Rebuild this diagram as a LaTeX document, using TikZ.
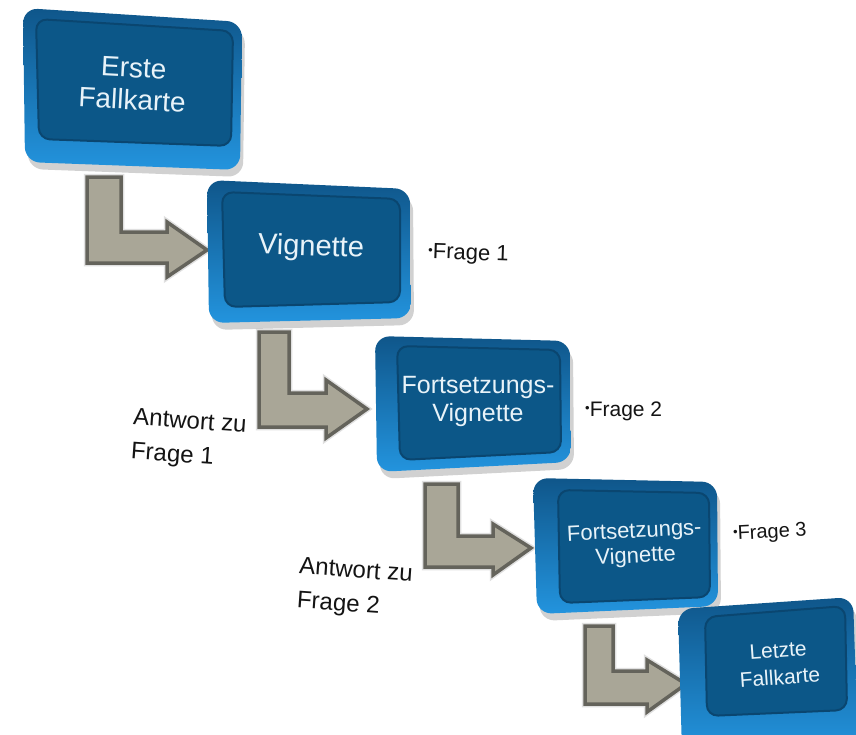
\documentclass[tikz,border=0pt]{standalone}
\usepackage{fontspec}
\setmainfont{Liberation Sans}
\definecolor{rimtop}{HTML}{0F568A}
\definecolor{rimbot}{HTML}{2394DE}
\definecolor{facefill}{HTML}{0C5788}
\definecolor{faceedge}{HTML}{0A4670}
\definecolor{arrowfill}{HTML}{A9A697}
\definecolor{arrowedge}{HTML}{64635B}
\definecolor{boxtxt}{HTML}{E8F3F9}
\newcommand\cardbox[2]{%
  \begin{scope}[shift={(3,7)}]\fill[cardshadow] #1;\end{scope}
  \shade[rim] #1;
  \filldraw[face] #2;
}
\newcommand\smallbullet{\raisebox{0.18em}{\fontsize{13}{13}\selectfont •}}
\begin{document}
\begin{tikzpicture}[x=1pt,y=-1pt,
  rim/.style={rounded corners=15pt, top color=rimtop, bottom color=rimbot},
  face/.style={rounded corners=11pt, fill=facefill, draw=faceedge, line width=2pt},
  cardshadow/.style={rounded corners=15pt, fill=black, opacity=0.18},
  boxtext/.style={text=boxtxt, align=center, inner sep=0pt},
  arrowblk/.style={fill=arrowfill, draw=arrowedge, line width=3.5pt, line join=miter},
  arrowglow/.style={draw=black!12, line width=6.5pt, line join=miter},
  sidenote/.style={anchor=west, text=black!92, inner sep=0pt},
  answer/.style={anchor=west, align=left, text=black!92, inner sep=0pt,
    font=\fontsize{24}{34}\selectfont, rotate=-4},
]
\useasboundingbox (0,0) rectangle (856,734);
\clip (0,0) rectangle (856,734);
\fill[white] (0,0) rectangle (856,734);

% L-shaped block arrows between the cards
\foreach \pts in {
  {(87,177) -- (121,177) -- (121,232) -- (167,232) -- (167,222) -- (207,250) -- (167,277) -- (167,263) -- (87,263) -- cycle},
  {(259,332) -- (289,332) -- (289,393) -- (326,393) -- (326,380) -- (367,409) -- (326,438) -- (326,427) -- (259,427) -- cycle},
  {(425,484) -- (458,484) -- (458,536) -- (493,536) -- (493,524) -- (531,548) -- (493,575) -- (493,567) -- (425,567) -- cycle},
  {(585,626) -- (613,626) -- (613,671) -- (647,671) -- (647,660) -- (686,684) -- (647,712) -- (647,704) -- (585,704) -- cycle}}
{
  \draw[arrowglow] \pts;
  \filldraw[arrowblk] \pts;
}

% cards
\cardbox{(23,8) -- (242,22) -- (240,170) -- (25,162) -- cycle}
        {(36,19) -- (233,31) -- (231,146) -- (39,139) -- cycle}
\cardbox{(207,180) -- (410,189) -- (411,318) -- (209,323) -- cycle}
        {(222,192) -- (400,199) -- (400,302) -- (225,307) -- cycle}
\cardbox{(375,336) -- (570,341) -- (571,462) -- (377,472) -- cycle}
        {(397,346) -- (560,350) -- (561,452) -- (400,460) -- cycle}
\cardbox{(533,478) -- (717,482) -- (718,606) -- (537,614) -- cycle}
        {(558,490) -- (709,493) -- (710,597) -- (560,603) -- cycle}
\cardbox{(678,609) -- (853,597) -- (858,748) -- (682,752) -- cycle}
        {(705,617) -- (845,606) -- (847,710) -- (707,716) -- cycle}

% card captions
\node[boxtext, font=\fontsize{28}{32}\selectfont, rotate=-3] (c1) at (133,84) {Erste\\Fallkarte};
\node[boxtext, font=\fontsize{29}{29}\selectfont, rotate=-2] (c2) at (311,248) {Vignette};
\node[boxtext, font=\fontsize{25}{28}\selectfont] (c3) at (478,401) {Fortsetzungs-\\Vignette};
\node[boxtext, font=\fontsize{22}{25}\selectfont, rotate=3] (c4) at (635,545) {Fortsetzungs-\\Vignette};
\node[boxtext, font=\fontsize{21}{27}\selectfont, rotate=4] (c5) at (779,664) {Letzte\\Fallkarte};

% questions beside the cards
\node[sidenote, font=\fontsize{22}{22}\selectfont, rotate=-2] (q1) at (428,253) {\smallbullet Frage 1};
\node[sidenote, font=\fontsize{21}{21}\selectfont] (q2) at (585,411) {\smallbullet Frage 2};
\node[sidenote, font=\fontsize{20}{20}\selectfont, rotate=3] (q3) at (733,535) {\smallbullet Frage 3};

% answers leading to the next card
\node[answer] (a1) at (132,436) {Antwort zu\\Frage 1};
\node[answer] (a2) at (298,585) {Antwort zu\\Frage 2};
\end{tikzpicture}
\end{document}
